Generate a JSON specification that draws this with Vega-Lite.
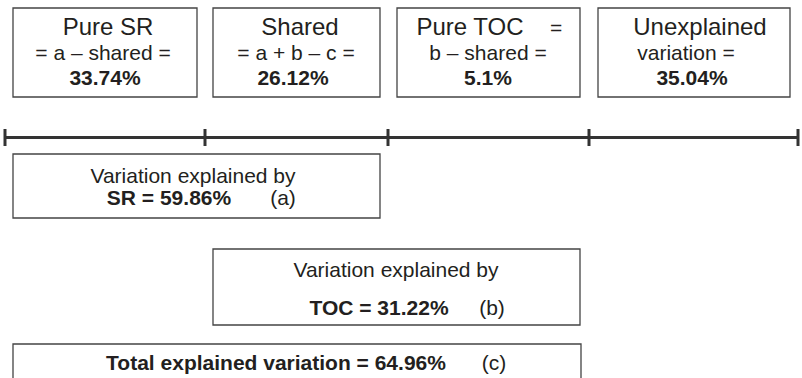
{
  "$schema": "https://vega.github.io/schema/vega-lite/v6.json",
  "width": 802,
  "height": 378,
  "padding": 0,
  "autosize": {"type": "fit", "contains": "padding"},
  "background": "white",
  "config": {"view": {"stroke": null}, "font": "Liberation Sans"},
  "datasets": {
    "boxes": [
      {"x": 13, "x2": 197, "y": 8, "y2": 97},
      {"x": 213, "x2": 380, "y": 8, "y2": 97},
      {"x": 397, "x2": 580, "y": 8, "y2": 97},
      {"x": 598, "x2": 790, "y": 8, "y2": 97},
      {"x": 13, "x2": 380, "y": 154, "y2": 218},
      {"x": 213, "x2": 580, "y": 249, "y2": 325},
      {"x": 13, "x2": 581, "y": 344, "y2": 400}
    ],
    "line": [{"x": 5, "x2": 798, "y": 137.5}],
    "ticks": [
      {"x": 5, "y": 129, "y2": 146},
      {"x": 205, "y": 129, "y2": 146},
      {"x": 388, "y": 129, "y2": 146},
      {"x": 589, "y": 129, "y2": 146},
      {"x": 798, "y": 129, "y2": 146}
    ],
    "labels": [
      {"x": 108, "y": 35, "t": "Pure SR", "k": "head"},
      {"x": 300, "y": 35, "t": "Shared", "k": "head"},
      {"x": 470, "y": 35, "t": "Pure TOC", "k": "head"},
      {"x": 700, "y": 35, "t": "Unexplained", "k": "head"},
      {"x": 556, "y": 35, "t": "=", "k": "body"},
      {"x": 103, "y": 60, "t": "= a – shared =", "k": "body"},
      {"x": 296, "y": 60, "t": "= a + b – c =", "k": "body"},
      {"x": 488, "y": 60, "t": "b – shared =", "k": "body"},
      {"x": 686, "y": 60, "t": "variation =", "k": "body"},
      {"x": 193, "y": 183, "t": "Variation explained by", "k": "body"},
      {"x": 283, "y": 205, "t": "(a)", "k": "body"},
      {"x": 396, "y": 277, "t": "Variation explained by", "k": "body"},
      {"x": 492, "y": 315, "t": "(b)", "k": "body"},
      {"x": 494, "y": 370, "t": "(c)", "k": "body"},
      {"x": 105, "y": 85, "t": "33.74%", "k": "bold"},
      {"x": 293, "y": 85, "t": "26.12%", "k": "bold"},
      {"x": 488, "y": 85, "t": "5.1%", "k": "bold"},
      {"x": 692, "y": 85, "t": "35.04%", "k": "bold"},
      {"x": 169, "y": 205, "t": "SR = 59.86%", "k": "bold"},
      {"x": 379, "y": 315, "t": "TOC = 31.22%", "k": "bold"},
      {"x": 276, "y": 370, "t": "Total explained variation = 64.96%", "k": "bold"}
    ]
  },
  "layer": [
    {
      "data": {"name": "boxes"},
      "mark": {"type": "rect", "fill": "white", "stroke": "#444444", "strokeWidth": 1.3, "clip": true},
      "encoding": {
        "x": {"field": "x", "type": "quantitative", "scale": {"domain": [0, 802], "nice": false, "zero": false}, "axis": null},
        "x2": {"field": "x2"},
        "y": {"field": "y", "type": "quantitative", "scale": {"domain": [0, 378], "nice": false, "zero": false, "reverse": true}, "axis": null},
        "y2": {"field": "y2"}
      }
    },
    {
      "data": {"name": "line"},
      "mark": {"type": "rule", "stroke": "#333333", "strokeWidth": 3},
      "encoding": {
        "x": {"field": "x", "type": "quantitative"},
        "x2": {"field": "x2"},
        "y": {"field": "y", "type": "quantitative"}
      }
    },
    {
      "data": {"name": "ticks"},
      "mark": {"type": "rule", "stroke": "#333333", "strokeWidth": 3},
      "encoding": {
        "x": {"field": "x", "type": "quantitative"},
        "y": {"field": "y", "type": "quantitative"},
        "y2": {"field": "y2"}
      }
    },
    {
      "data": {"name": "labels"},
      "transform": [{"filter": "datum.k === 'head'"}],
      "mark": {"type": "text", "fontSize": 24, "align": "center", "baseline": "alphabetic", "color": "#231f20"},
      "encoding": {
        "x": {"field": "x", "type": "quantitative"},
        "y": {"field": "y", "type": "quantitative"},
        "text": {"field": "t"}
      }
    },
    {
      "data": {"name": "labels"},
      "transform": [{"filter": "datum.k === 'body'"}],
      "mark": {"type": "text", "fontSize": 21, "align": "center", "baseline": "alphabetic", "color": "#231f20"},
      "encoding": {
        "x": {"field": "x", "type": "quantitative"},
        "y": {"field": "y", "type": "quantitative"},
        "text": {"field": "t"}
      }
    },
    {
      "data": {"name": "labels"},
      "transform": [{"filter": "datum.k === 'bold'"}],
      "mark": {"type": "text", "fontSize": 21, "fontWeight": "bold", "align": "center", "baseline": "alphabetic", "color": "#231f20"},
      "encoding": {
        "x": {"field": "x", "type": "quantitative"},
        "y": {"field": "y", "type": "quantitative"},
        "text": {"field": "t"}
      }
    }
  ]
}
